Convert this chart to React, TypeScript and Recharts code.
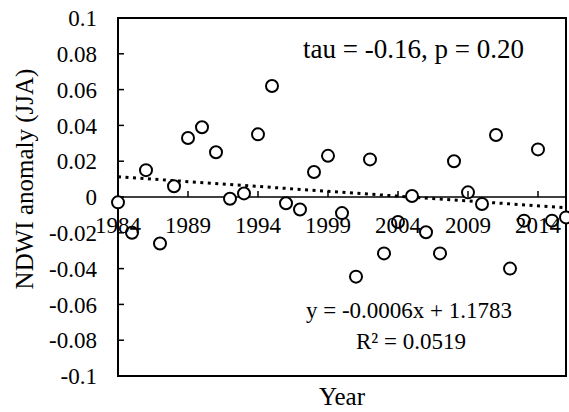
import {
  ComposedChart,
  Scatter,
  Line,
  XAxis,
  YAxis,
  ReferenceLine,
  ReferenceArea,
} from "recharts";

const years = [
  1984, 1985, 1986, 1987, 1988, 1989, 1990, 1991, 1992, 1993, 1994, 1995,
  1996, 1997, 1998, 1999, 2000, 2001, 2002, 2003, 2004, 2005, 2006, 2007,
  2008, 2009, 2010, 2011, 2012, 2013, 2014, 2015, 2016,
];
const ndwi = [
  -0.003, -0.02, 0.015, -0.026, 0.006, 0.033, 0.039, 0.025, -0.001, 0.002,
  0.035, 0.062, -0.0035, -0.007, 0.014, 0.023, -0.009, -0.0445, 0.021,
  -0.0315, -0.014, 0.0006, -0.0197, -0.0315, 0.02, 0.0026, -0.0039, 0.0346,
  -0.04, -0.0132, 0.0266, -0.0132, -0.0114,
];
// trendline end points
const trendYears = [1984, 2016];
const trendValues = [0.0113, -0.006];

const xTicks = [1984, 1989, 1994, 1999, 2004, 2009, 2014];
const yTicks = [-0.1, -0.08, -0.06, -0.04, -0.02, 0, 0.02, 0.04, 0.06, 0.08, 0.1];

const points = years.map((year, i) => ({ year, v: ndwi[i] }));
const trend = trendYears.map((year, i) => ({ year, v: trendValues[i] }));

const FONT = "Liberation Serif";
const W = 569;
const H = 412;
const LEFT = 118;
const RIGHT = 3;
const TOP = 18;
const BOTTOM_AXIS_H = 36;
const X_MIN = 1984;
const X_MAX = 2016;
const Y_MIN = -0.1;
const Y_MAX = 0.1;
const PLOT_H = H - TOP - BOTTOM_AXIS_H;
const ZERO_Y = TOP + (PLOT_H * Y_MAX) / (Y_MAX - Y_MIN);

const XTick = (props: any) => {
  const { x, payload } = props;
  return (
    <g>
      <line x1={x} x2={x} y1={ZERO_Y} y2={ZERO_Y - 6} stroke="#000" strokeWidth={1.5} />
      <text x={x} y={ZERO_Y + 36} textAnchor="middle" fontFamily={FONT} fontSize={23} fill="#000">
        {payload.value}
      </text>
    </g>
  );
};

const Marker = (props: any) => (
  <circle cx={props.cx} cy={props.cy} r={6} fill="#fff" stroke="#000" strokeWidth={2} />
);

const fmt = (v: number) => String(Number(v.toFixed(2)));

export default function App() {
  return (
    <div style={{ position: "absolute", left: 0, top: 0, background: "#fff" }}>
      <ComposedChart
        width={W}
        height={H}
        margin={{ top: TOP, right: RIGHT, bottom: 0, left: 0 }}
      >
        <XAxis
          dataKey="year"
          type="number"
          domain={[X_MIN, X_MAX]}
          ticks={xTicks}
          axisLine={false}
          tickLine={false}
          tick={<XTick />}
          height={BOTTOM_AXIS_H}
          label={{ value: "Year", position: "insideBottom", offset: 7, fontFamily: FONT, fontSize: 25, fill: "#000" }}
        />
        <YAxis
          type="number"
          domain={[Y_MIN, Y_MAX]}
          ticks={yTicks}
          tickFormatter={fmt}
          width={LEFT}
          tickSize={-6}
          tickMargin={27}
          axisLine={{ stroke: "#000", strokeWidth: 2 }}
          tickLine={{ stroke: "#000", strokeWidth: 1.5 }}
          tick={{ fontFamily: FONT, fontSize: 23, fill: "#000" }}
          interval={0}
        />
        {/* plot frame */}
        <ReferenceArea
          x1={X_MIN}
          x2={X_MAX}
          y1={Y_MIN}
          y2={Y_MAX}
          fill="#fff"
          fillOpacity={0}
          stroke="#000"
          strokeOpacity={1}
          strokeWidth={2}
          ifOverflow="visible"
        />
        <ReferenceLine y={Y_MAX} stroke="#000" strokeWidth={2} ifOverflow="visible" />
        <ReferenceLine x={X_MAX} stroke="#000" strokeWidth={2} ifOverflow="visible" />
        <ReferenceLine y={Y_MIN} stroke="#000" strokeWidth={2} ifOverflow="visible" />
        <ReferenceLine y={0} stroke="#000" strokeWidth={1.5} />
        <Scatter data={points} dataKey="v" shape={<Marker />} isAnimationActive={false} />
        <Line
          data={trend}
          dataKey="v"
          stroke="#000"
          strokeWidth={3}
          strokeDasharray="3 4.5"
          dot={false}
          activeDot={false}
          isAnimationActive={false}
        />
        <text x={303} y={58} fontFamily={FONT} fontSize={27} fill="#000">
          tau = -0.16, p = 0.20
        </text>
        <text x={409} y={318} textAnchor="middle" fontFamily={FONT} fontSize={23} fill="#000">
          y = -0.0006x + 1.1783
        </text>
        <text x={411} y={349} textAnchor="middle" fontFamily={FONT} fontSize={23} fill="#000">
          R² = 0.0519
        </text>
        <text
          transform="translate(33,179) rotate(-90)"
          textAnchor="middle"
          fontFamily={FONT}
          fontSize={25}
          fill="#000"
        >
          NDWI anomaly (JJA)
        </text>
      </ComposedChart>
    </div>
  );
}
